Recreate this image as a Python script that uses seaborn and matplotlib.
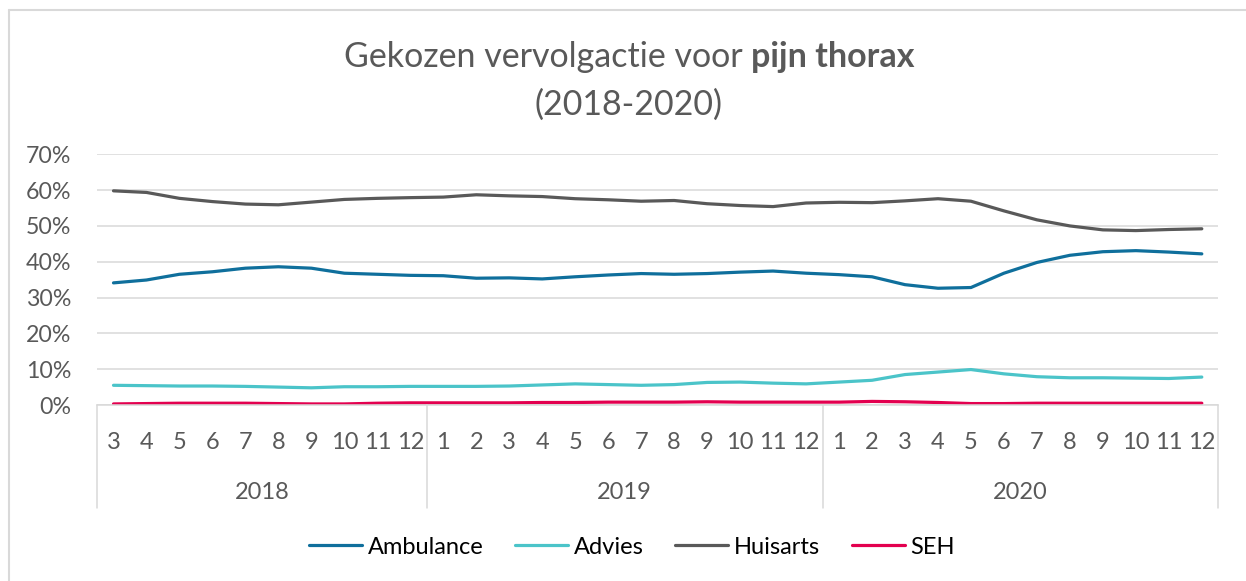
import numpy as np
import pandas as pd
import matplotlib
matplotlib.use("Agg")
import matplotlib.pyplot as plt
from matplotlib.lines import Line2D
import matplotlib.transforms as mtransforms
import seaborn as sns

# ---- data ----
years = ["2018"] * 10 + ["2019"] * 12 + ["2020"] * 12
months = [3, 4, 5, 6, 7, 8, 9, 10, 11, 12] + list(range(1, 13)) + list(range(1, 13))

ambulance = [34.1, 34.9, 36.5, 37.2, 38.2, 38.6, 38.2, 36.8, 36.5, 36.2,
             36.1, 35.4, 35.5, 35.2, 35.8, 36.3, 36.7, 36.5, 36.7, 37.1, 37.4, 36.8,
             36.4, 35.8, 33.6, 32.6, 32.8, 36.8, 39.8, 41.8, 42.8, 43.1, 42.7, 42.2]
advies = [5.5, 5.4, 5.3, 5.3, 5.2, 5.0, 4.8, 5.1, 5.1, 5.2,
          5.2, 5.2, 5.3, 5.6, 5.9, 5.7, 5.5, 5.7, 6.3, 6.4, 6.1, 5.9,
          6.4, 6.9, 8.5, 9.2, 9.9, 8.7, 7.9, 7.6, 7.6, 7.5, 7.4, 7.8]
huisarts = [59.8, 59.35, 57.7, 56.8, 56.1, 55.9, 56.65, 57.4, 57.7, 57.9,
            58.05, 58.7, 58.4, 58.2, 57.6, 57.3, 56.9, 57.1, 56.2, 55.7, 55.4, 56.4,
            56.6, 56.5, 57.0, 57.6, 56.9, 54.2, 51.7, 50.0, 48.9, 48.7, 49.0, 49.2]
seh = [0.3, 0.4, 0.5, 0.5, 0.5, 0.4, 0.3, 0.3, 0.5, 0.6,
       0.6, 0.6, 0.6, 0.7, 0.7, 0.8, 0.8, 0.8, 0.9, 0.8, 0.8, 0.8,
       0.8, 1.0, 0.9, 0.7, 0.4, 0.4, 0.5, 0.5, 0.5, 0.5, 0.5, 0.5]

series_names = ["Ambulance", "Advies", "Huisarts", "SEH"]
series_values = [ambulance, advies, huisarts, seh]
colors = {"Ambulance": "#0f6f9c", "Advies": "#4bc4c9", "Huisarts": "#595959", "SEH": "#e3004f"}

title_normal = "Gekozen vervolgactie voor "
title_bold = "pijn thorax"
subtitle = "(2018-2020)"

# ---- long-form frame ----
idx = np.arange(len(months))
rows = []
for name, vals in zip(series_names, series_values):
    for i, v in zip(idx, vals):
        rows.append({"idx": i, "value": v / 100.0, "serie": name})
df = pd.DataFrame(rows)

# ---- style ----
sns.set_theme(style="white")
plt.rcParams["font.family"] = ["Lato", "DejaVu Sans"]
TXT = "#595959"
GRID = "#d9d9d9"

W, H = 1246, 581
fig = plt.figure(figsize=(W / 100, H / 100), dpi=100)
ax_left, ax_right = 97, 1218.3
ax_top, ax_bot = 154.3, 405
ax = fig.add_axes([ax_left / W, 1 - ax_bot / H, (ax_right - ax_left) / W, (ax_bot - ax_top) / H])

sns.lineplot(data=df, x="idx", y="value", hue="serie", hue_order=series_names,
             palette=colors, linewidth=2.3, ax=ax, legend=True)

ax.set_xlim(-0.5, len(months) - 0.5)
ax.set_ylim(0, 0.7)
ax.set_yticks(np.arange(0, 0.71, 0.1))
ax.set_yticklabels([f"{int(round(t * 100))}%" for t in np.arange(0, 0.71, 0.1)])
ax.grid(axis="y", color=GRID, linewidth=1.1)
ax.set_axisbelow(True)
for s in ["top", "right", "left"]:
    ax.spines[s].set_visible(False)
ax.spines["bottom"].set_color(GRID)
ax.spines["bottom"].set_linewidth(1.1)
ax.set_xlabel("")
ax.set_ylabel("")

ax.set_xticks(idx)
ax.set_xticklabels([str(m) for m in months])
ax.tick_params(axis="x", length=0, pad=(449.3 - 405) / 1.389, labelsize=17, colors=TXT)
ax.tick_params(axis="y", length=0, pad=26 / 1.389, labelsize=16.7, colors=TXT)
for lab in ax.get_xticklabels():
    lab.set_va("baseline")

# year group labels and separators
trans = mtransforms.blended_transform_factory(ax.transData, ax.transAxes)
ax_h = ax_bot - ax_top
sep_y = (ax_bot - 508) / ax_h
year_base = (ax_bot - 499.3) / ax_h
uniq_years = list(dict.fromkeys(years))
bounds = [-0.5]
for y in uniq_years:
    pos = [i for i, yy in enumerate(years) if yy == y]
    ax.text(np.mean(pos), year_base, y, transform=trans, ha="center", va="baseline",
            fontsize=17, color=TXT)
    bounds.append(pos[-1] + 0.5)
for b in bounds:
    ax.add_line(Line2D([b, b], [0, sep_y], transform=trans, color=GRID, linewidth=1.1,
                       clip_on=False))

# legend
sns.move_legend(ax, "center", bbox_to_anchor=((632 - ax_left) / (ax_right - ax_left),
                                              (ax_bot - 547) / ax_h),
                ncol=4, frameon=False, title=None, fontsize=17,
                handlelength=2.25, handletextpad=0.23, columnspacing=1.34)
leg = ax.get_legend()
for t in leg.get_texts():
    t.set_color("#000000")
for h in leg.get_lines():
    h.set_linewidth(2.3)

# title (mixed weight)
cx = 629 / W
t1 = fig.text(0, 1 - 66.7 / H, title_normal, fontsize=24.5, color=TXT, ha="left", va="baseline")
t2 = fig.text(0, 1 - 66.7 / H, title_bold, fontsize=24.5, color=TXT, ha="left", va="baseline",
              fontweight="bold")
fig.canvas.draw()
r = fig.canvas.get_renderer()
w1 = t1.get_window_extent(r).width
w2 = t2.get_window_extent(r).width
start = cx * W - (w1 + w2) / 2
t1.set_x(start / W)
t2.set_x((start + w1) / W)
fig.text(cx, 1 - 115 / H, subtitle, fontsize=24.5, color=TXT, ha="center", va="baseline")

# chart border (top & left visible)
fig.add_artist(Line2D([8.7 / W, 8.7 / W], [0, 1 - 10 / H], transform=fig.transFigure,
                      color=GRID, linewidth=1.5))
fig.add_artist(Line2D([8.7 / W, 1], [1 - 10 / H, 1 - 10 / H], transform=fig.transFigure,
                      color=GRID, linewidth=1.5))

fig.savefig("out.png", dpi=100, facecolor="white")
